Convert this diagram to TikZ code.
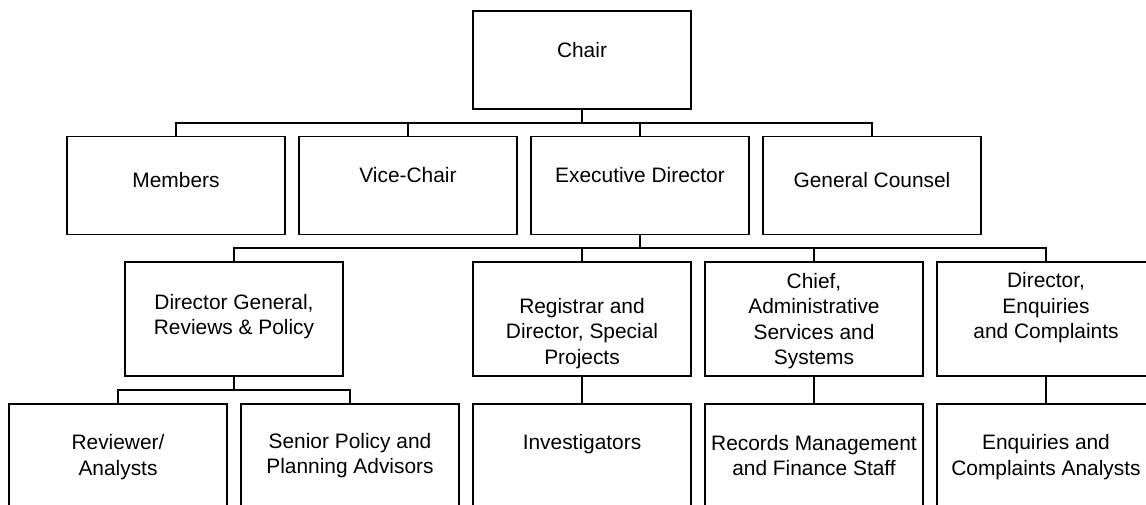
\documentclass[tikz,border=0pt]{standalone}
\usepackage{fontspec}
\setmainfont{Liberation Sans}

\begin{document}
\begin{tikzpicture}[x=0.5pt,y=-0.5pt,
	box/.style={draw,line width=0.6pt,minimum width=109pt,minimum height=48.75pt,inner sep=0pt},
	tallbox/.style={box,minimum height=57pt},
	txt/.style={align=center,inner sep=0pt,font=\fontsize{10.45}{12.75}\selectfont},
	conn/.style={line width=0.6pt}]
	\useasboundingbox (0,0) rectangle (1146,504);
	\clip (0,0) rectangle (1146,504);

	% top
	\draw (582,60) node (chair) [box,minimum height=49pt] {};
	\node (chair-t) [txt] at (582,50) {Chair};

	% first row
	\draw (176,185.5) node (members) [box] {};
	\node (members-t) [txt] at (176,180) {Members};
	\draw (408,185.5) node (vicechair) [box] {};
	\node (vicechair-t) [txt] at (408,175.5) {Vice-Chair};
	\draw (640,185.5) node (execdir) [box] {};
	\node (execdir-t) [txt] at (640,175.5) {Executive Director};
	\draw (872,185.5) node (counsel) [box] {};
	\node (counsel-t) [txt] at (872,180.5) {General Counsel};

	% second row
	\draw (234,319) node (dgreview) [tallbox] {};
	\node (dgreview-t) [txt] at (234,316.5) {Director General,\\Reviews \& Policy};
	\draw (582,319) node (registrar) [tallbox] {};
	\node (registrar-t) [txt] at (582,333.5) {Registrar and\\Director, Special\\Projects};
	\draw (814,319) node (chiefadmin) [tallbox] {};
	\node (chiefadmin-t) [txt] at (814,321) {Chief,\\Administrative\\Services and\\Systems};
	\draw (1046,319) node (direnq) [tallbox] {};
	\node (direnq-t) [txt] at (1046,308) {Director,\\Enquiries\\and Complaints};

	% third row
	\draw (118,461) node (reviewers) [tallbox] {};
	\node (reviewers-t) [txt] at (118,457) {Reviewer/\\Analysts};
	\draw (350,461) node (advisors) [tallbox] {};
	\node (advisors-t) [txt] at (350,455.5) {Senior Policy and\\Planning Advisors};
	\draw (582,461) node (investig) [tallbox] {};
	\node (investig-t) [txt] at (582,444) {Investigators};
	\draw (814,461) node (records) [tallbox] {};
	\node (records-t) [txt] at (814,455.5) {Records Management\\and Finance Staff};
	\draw (1046,461) node (enqanalysts) [tallbox] {};
	\node (enqanalysts-t) [txt] at (1046,457) {Enquiries and\\Complaints Analysts};

	% reporting lines
	\coordinate (bus1) at (582,123);
	\coordinate (bus2) at (640,248);
	\coordinate (bus3) at (234,390);

	\draw[conn] (chair) -- (bus1);
	\foreach \n in {members,vicechair,execdir,counsel}
		\draw[conn] (bus1) -| (\n);

	\draw[conn] (execdir) -- (bus2);
	\foreach \n in {dgreview,registrar,chiefadmin,direnq}
		\draw[conn] (bus2) -| (\n);

	\draw[conn] (dgreview) -- (bus3);
	\draw[conn] (bus3) -| (reviewers);
	\draw[conn] (bus3) -| (advisors);

	\draw[conn] (registrar) -- (investig);
	\draw[conn] (chiefadmin) -- (records);
	\draw[conn] (direnq) -- (enqanalysts);
\end{tikzpicture}
\end{document}
